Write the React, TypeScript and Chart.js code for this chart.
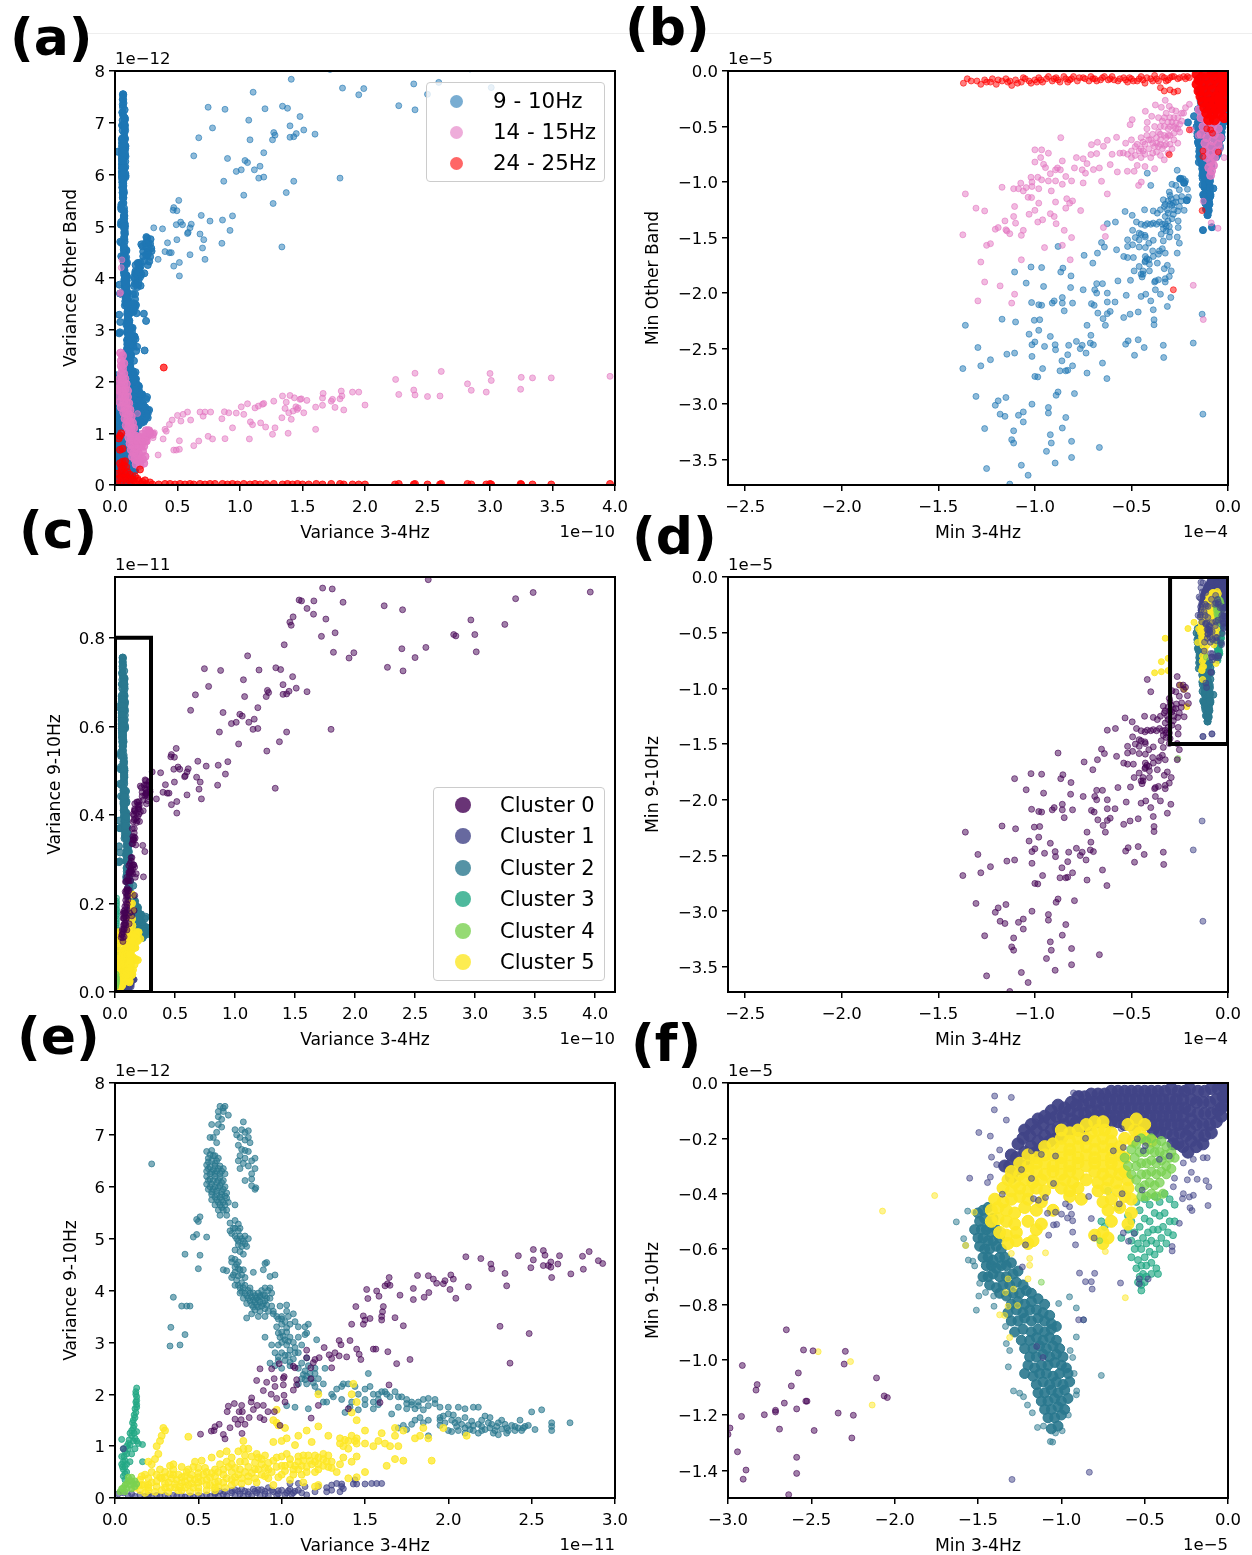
import React, { useEffect, useRef } from "react";
import { Chart, registerables } from "chart.js";

Chart.register(...registerables);

// ---- Variance panels. Far points: x in 1e-10, y in 1e-12
const varCluster0Far = [1.41,7.84,1.105,7.59,1.82,7.67,1.95,7.54,1.99,7.66,2.39,7.75,2.59,7.78,2.5,7.55,3.01,7.68,2.27,7.33,2.4,7.25,1.72,8.03,2.84,8.04,.745,7.3,.88,7.26,1.2,7.27,1.34,7.32,1.38,7.28,1.48,7.12,1.07,7.05,.78,6.9,1.4,6.94,1.51,6.86,1.6,6.78,1.27,6.81,.67,6.71,1.08,6.67,1.26,6.67,1.28,6.76,1.4,6.72,1.43,6.73,1.45,6.79,.63,6.36,1.19,6.42,.9,6.31,1.04,6.27,1.06,6.23,1.01,6.09,.97,6.06,1.16,6.16,1.115,6.09,.87,5.87,1.15,5.93,1.19,5.95,1.43,5.87,1.8,5.93,1.37,5.65,1.03,5.6,1.265,5.44,.51,5.5,.47,5.36,.495,5.3,.465,5.31,.69,5.21,.94,5.2,.86,5.12,.76,5.1,.525,5.08,.49,5.03,.54,5.03,.61,5.04,.6,4.97,.31,4.97,.38,4.95,.92,4.92,.585,4.88,.58,4.86,.68,4.85,.71,4.74,.495,4.74,.42,4.68,.855,4.67,1.335,4.6,.7,4.58,.4,4.51,.45,4.49,.435,4.49,.6,4.45,.345,4.36,.72,4.36,.515,4.3,.47,4.23,.515,4.04];
const varCluster0High = [2.61,9.31,1.73,9.12,1.81,9.1,1.534,8.85,1.554,8.83,1.657,8.83,1.9,8.8,2.243,8.72,2.396,8.63,1.6,8.66,1.654,8.53,1.757,8.42,1.484,8.47,1.457,8.35,1.468,8.28,3.338,8.88,3.484,9.02,3.96,9.03,2.965,8.4,3.248,8.3,2.822,8.07,2.998,8.07,1.834,8.11];
// Near points: x in 1e-11, y in 1e-12
const varCluster0 = [2.926,4.52,2.9,4.575,2.845,4.75,2.805,4.66,2.81,4.41,2.735,4.32,2.667,4.67,2.657,4.51,2.62,4.25,2.615,4.45,2.615,4.55,2.6,4.48,2.58,4.68,2.57,4.77,2.57,4.48,2.51,4.59,2.51,4.79,2.495,4.44,2.485,3.17,2.42,4.67,2.37,2.6,2.35,4.09,2.34,4.33,2.31,3.31,2.26,4.42,2.255,4.51,2.195,4.615,2.12,4.07,2.105,4.65,2.045,3.85,2.03,4.22,2.015,4.3,2.01,4.02,1.98,4.19,1.97,4.13,1.93,4.14,1.91,4.22,1.88,4.285,1.883,3.96,1.855,3.87,1.815,4.29,1.79,3.825,1.79,4.04,1.77,2.67,1.73,3.32,1.71,3.91,1.69,2.59,1.68,3.476,1.645,4.25,1.635,4.13,1.65,4.1,1.637,2.82,1.644,2.18,1.62,4.09,1.61,3.69,1.605,3.59,1.6,3.5,1.6,3.43,1.584,3.89,1.57,3.99,1.55,2.87,1.565,2.87,1.59,1.84,1.51,4.02,1.517,3.845,1.53,3.46,1.49,3.51,1.5,3.43,1.49,3.35,1.445,3.69,1.42,3.35,1.45,2.87,1.465,2.77,1.475,2.67,1.41,3.035,1.345,3.035,1.356,2.955,1.39,2.72,1.345,2.74,1.32,2.8,1.285,2.76,1.3,2.69,1.3,2.51,1.255,2.9,1.225,2.705,1.2,2.67,1.19,2.61,1.175,2.51,1.15,2.85,1.15,2.705,1.07,2.54,1.08,2.51,.985,2.59,.87,2.49,.94,2.49,1.015,2.34,1.01,2.31,1.175,2.3,1.09,2.28,1.09,2.18,.955,2.3,.85,2.265,.91,2.23,.96,2.15,1.01,2.18,1.07,2.08,.89,2.07,.937,2,1.014,1.98,.97,1.92,1.02,1.85,.82,1.93,.817,1.85,.853,1.785,.89,1.785,1.22,1.785,.956,1.665,.918,1.665,.83,1.705,1.4,1.72,1.177,1.54,.99,1.4,.68,1.77,.716,1.82,.76,1.785,.745,1.665,.764,1.665,.673,1.665,.72,1.52,.757,1.51,.738,1.42,.78,1.42,.805,1.55,.87,1.55,.894,1.51,.625,1.42,.6,1.375,.578,1.29,.594,1.3,.513,1.23,.69,1.355,.65,1.225,.66,1.14,.762,1.245];
const varCluster2 = [.63,7.55,.65,7.52,.66,7.55,.62,7.45,.65,7.45,.68,7.38,.62,7.35,.64,7.3,.58,7.2,.62,7.2,.64,7.15,.61,7.05,.59,6.95,.61,6.85,.57,6.95,.72,7.1,.76,7.1,.78,7.05,.8,7.08,.77,7.25,.73,7,.75,6.95,.78,6.9,.74,6.8,.8,6.95,.81,6.85,.76,6.72,.78,6.7,.75,6.6,.78,6.55,.8,6.68,.74,6.5,.77,6.45,.82,6.5,.84,6.55,.8,6.4,.84,6.35,.75,6.35,.82,6.25,.78,6.12,.82,6.15,.82,6.02,.84,5.95,.845,5.98,.55,6.68,.58,6.7,.6,6.6,.56,6.55,.58,6.5,.61,6.5,.55,6.42,.57,6.38,.6,6.4,.63,6.4,.55,6.3,.58,6.28,.61,6.3,.64,6.3,.55,6.2,.57,6.15,.6,6.2,.63,6.18,.66,6.25,.55,6.05,.58,6.05,.61,6.08,.64,6.08,.56,5.95,.59,5.95,.62,5.98,.65,5.95,.58,5.85,.61,5.85,.64,5.85,.67,5.88,.58,5.75,.61,5.75,.64,5.75,.67,5.78,.6,5.65,.63,5.65,.66,5.65,.72,5.65,.62,5.55,.65,5.55,.63,5.45,.67,5.45,.69,5.3,.72,5.35,.74,5.28,.71,5.2,.7,5.1,.74,5.15,.72,5.05,.75,5.05,.78,5.05,.74,4.95,.77,4.95,.8,5,.76,4.85,.79,4.85,.72,4.78,.75,4.75,.77,4.7,.7,4.55,.73,4.5,.75,4.4,.65,4.4,.67,4.38,.72,4.35,.76,4.3,.7,4.25,.73,4.2,.76,4.15,.72,4.1,.75,4.05,.78,4.1,.81,4.05,.75,3.95,.78,3.95,.81,3.95,.84,3.9,.77,3.85,.8,3.85,.83,3.82,.86,3.82,.79,3.75,.82,3.72,.85,3.72,.88,3.7,.84,3.62,.87,3.6,.9,3.65,.79,3.47,.82,3.55,.86,3.5,.9,3.5,.88,4,.92,4,.9,3.9,.86,3.95,.93,3.85,.9,3.8,.87,3.78,.94,3.7,.91,3.72,.93,4.05,.9,4.05,.22,6.44,.51,5.42,.5,5.33,.49,5.37,.49,5.08,.47,5.03,.55,5.03,.51,4.68,.42,4.7,.5,4.42,.35,3.87,.4,3.7,.43,3.7,.45,3.7,.335,3.29,.42,3.15,.33,2.93,.39,2.95,.91,4.54,.9,4.52,.89,4.4,.83,4.35,.93,4.27,.96,4.3,.95,3.55,.98,3.45,1,3.35,1.03,3.6,.99,3.7,1.03,3.72,1.04,3.5,1.07,3.55,1,3.2,1.03,3.2,.97,3.3,.99,3.1,1.02,3.05,1.05,3.1,.9,3.1,.94,2.95,.98,2.95,1.03,2.95,1.07,3,1.08,2.9,1.12,2.95,1.1,3.1,1.14,3.3,1.15,3.18,1.16,3.35,1.14,3.15,1.21,3.05,1.1,3.3,1.08,3.4,.96,2.8,1,2.8,1.04,2.75,.98,2.65,1.02,2.65,1.07,2.68,1.1,2.8,.93,2.6,.96,2.55,1.05,2.55,1,2.5,1.1,2.5,1.14,2.45,1.2,2.5,1.26,2.5,1.12,2.3,1.15,2.35,1.18,2.3,1.1,2.2,1.15,2.2,1.2,2.15,1.25,2.2,1.22,2.05,1.3,2,1.33,2.1,1.36,2.15,1.4,2.2,1.44,2.15,1.46,2,1.37,2.2,1.31,1.95,1.27,1.85,1.36,1.9,1.42,1.85,1.41,1.75,1.38,1.65,1.5,1.9,1.5,2.1,1.53,2.15,1.58,2,1.6,2.05,1.63,2,1.55,2,1.5,1.8,1.55,1.72,1.46,1.7,1.52,2.4,1.03,1.78,1.08,1.75,1.16,1.72,1.25,1.85,1.68,2.05,1.72,1.95,1.75,1.9,1.78,1.85,1.82,1.85,1.85,1.9,1.88,1.92,1.92,1.9,1.95,1.75,1.7,1.75,1.75,1.72,1.8,1.72,1.85,1.7,1.58,1.8,1.66,1.62,2,1.75,2.03,1.6,2.06,1.75,2.1,1.72,2.15,1.75,2.18,1.75,1.95,1.55,1.98,1.45,2.02,1.5,2.06,1.5,2.1,1.55,2.15,1.4,2.2,1.5,2.22,1.58,1.8,1.5,1.83,1.55,1.88,1.5,1.78,1.42,1.73,1.4,1.7,1.35,1.75,1.32,1.85,1.45,1.95,1.4,2,1.3,2.02,1.28,2.15,1.3,2.2,1.3,2.25,1.35,2.28,1.3,2.3,1.45,2.32,1.5,2.35,1.35,2.38,1.4,2.42,1.35,2.45,1.35,2.48,1.4,2.1,1.25,2.18,1.25,2.27,1.25,2.3,1.22,2.4,1.3,2.52,1.32,2.5,1.66,2.56,1.7,2.62,1.45,2.62,1.38,2.62,1.3,2.73,1.45,2.43,1.5,2.25,1.55,1.88,1.2,2.12,1.4,2.06,1.3,2.24,1.45,2.35,1.25,.57,6.62,.59,6.6,.62,6.55,.56,6.48,.6,6.45,.62,6.35,.56,6.35,.59,6.33,.65,6.35,.57,6.25,.6,6.25,.63,6.25,.56,6.12,.59,6.12,.62,6.12,.65,6.12,.57,6,.6,6,.63,6.02,.66,6,.58,5.9,.61,5.92,.64,5.9,.66,5.82,.6,5.8,.63,5.8,.65,5.7,.62,5.7,.68,5.7,.64,5.6,.67,5.55,.69,5.15,.72,5.2,.75,5.2,.73,5,.76,5,.78,4.9,.74,4.88,.7,4.62,.72,4.6,.74,4.55,.72,4.45,.74,4.42,.77,4.4,.71,4.3,.74,4.28,.78,4.25,.74,4.1,.77,4.05,.8,4,.83,3.95,.76,3.98,.79,3.9,.82,3.88,.85,3.85,.81,3.8,.84,3.78,.87,3.88,.83,3.68,.86,3.68,.89,3.75,.92,3.6,.89,3.92,.91,3.85,.87,3.9,.94,3.95,.95,3.6,.97,3.5,1,3.5,1.02,3.4,1,3.45,1.05,3.35,1.03,3.28,.98,3.18,1.01,3.12,1.04,3.02,1,3,1.05,2.85,1.08,2.8,1.02,2.75,.98,2.72,1.05,2.62,1.12,2.6,1.15,2.7,1.16,2.55,1.13,2.38,1.17,2.4,1.2,2.4,1.14,2.28,1.19,2.22,1.22,2.3,1.95,1.5,1.97,1.58,2,1.62,2.04,1.45,2.08,1.42,2.14,1.48,2.18,1.42,2.1,1.35,2.13,1.32,2.2,1.38,2.22,1.32,2.26,1.42,2.29,1.38,2.32,1.33,2.34,1.42,2.36,1.3,2.4,1.38,2.44,1.3,2.46,1.38,2.05,1.38,1.78,1.8,1.75,1.82,1.82,1.78,1.88,1.78,1.92,1.82,1.7,1.95,1.65,1.95,1.62,2.05,1.58,1.9,1.55,1.85];
const varCluster3 = [.13,2.12,.125,2.05,.13,1.95,.125,1.85,.13,1.75,.125,1.65,.12,1.55,.11,1.5,.115,1.4,.1,1.3,.13,1.28,.1,1.2,.085,1.12,.12,1.15,.14,1.05,.165,1.03,.09,1.02,.12,.95,.07,1,.05,.95,.04,1.13,.055,.8,.07,.85,.1,.85,.05,.7,.07,.65,.04,.65,.09,.7,.05,.55,.07,.5,.05,.42,.06,.35,.13,1.88,.12,1.72,.115,1.25,.13,1.1,.165,.7,.125,2,.13,1.8,.115,1.6,.105,1.45,.11,1.35,.09,1.25,.11,1.1,.08,1.05,.06,.9,.08,.95,.04,.8,.06,.72,.045,.6,.06,.6,.06,.47];
const varCluster4 = [.1,.4,.1,.33,.08,.33,.12,.33,.06,.25,.09,.25,.12,.22,.04,.18,.07,.18,.1,.18,.03,.12,.06,.12,.08,.4,.11,.28,.07,.28,.05,.2,.13,.27];
const varCluster1 = [.02,.08,.05,.1,.1,.08,.15,.06,.2,.05,.25,.05,.3,.05,.35,.05,.4,.04,.45,.04,.5,.05,.55,.06,.6,.08,.63,.13,.65,.07,.7,.1,.72,.16,.75,.08,.78,.13,.8,.07,.83,.17,.85,.1,.88,.16,.9,.08,.92,.2,.95,.12,.98,.08,1,.15,1.03,.1,1.05,.17,1.07,.1,1.05,.28,1.1,.28,1.14,.22,1.22,.22,1.2,.12,1.27,.2,1.27,.12,1.3,.15,1.3,.25,1.36,.27,1.36,.22,1.37,.18,1.33,.28,1.44,.35,1.45,.27,1.5,.27,1.54,.28,1.57,.28,1.6,.28,1.43,.27,1.35,.12,1.1,.15,.05,.95,.08,.04,.12,.03,.18,.03,.22,.03,.27,.03,.32,.02,.37,.03,.42,.02,.47,.02,.52,.03,.57,.03,.62,.04,.67,.04,.72,.05,.77,.04,.82,.04,.87,.05,.92,.04,.97,.05,1.02,.06,1.06,.07,.6,.1,.66,.12,.7,.14,.74,.13,.8,.12,.84,.13,.9,.13,.94,.15,.98,.14,1.04,.14,1.08,.13,1.12,.1,1.15,.06,.76,.17,.86,.16];
const varCluster5 = [.12,.2,.15,.35,.15,.15,.18,.1,.18,.25,.18,.45,.2,.15,.22,.3,.22,.5,.24,.12,.25,.22,.27,.4,.27,.55,.28,.15,.3,.28,.3,.5,.32,.12,.33,.2,.34,.38,.35,.55,.36,.27,.38,.15,.38,.45,.4,.3,.4,.6,.42,.2,.43,.5,.45,.12,.45,.38,.46,.28,.47,.6,.48,.7,.5,.2,.5,.48,.52,.33,.52,.72,.54,.58,.55,.15,.55,.25,.57,.4,.58,.78,.6,.2,.6,.55,.62,.32,.63,.85,.65,.45,.66,.2,.67,.9,.68,.6,.7,.25,.7,.78,.72,.4,.74,.9,.75,.55,.76,.28,.78,.7,.8,.42,.8,.95,.82,.8,.84,.55,.85,.3,.86,.78,.88,.65,.9,.42,.9,.82,.92,.55,.95,.72,.95,.25,.97,.6,1,.45,1,.8,1,1.1,1.02,.62,1.05,.75,1.05,.35,1.07,.55,1.08,1.02,1.1,.7,1.12,.45,1.13,.82,1.15,.6,1.17,.72,1.18,1.08,1.2,.5,1.2,.82,1.22,.65,1.25,.75,1.28,.6,1.28,.82,1.3,.7,1.3,.58,.3,1.3,.29,1.35,.28,1.2,.27,1.1,.25,1,.26,.85,.24,.75,.2,.7,.22,.65,.33,.62,.35,.65,.44,1.18,.77,1.1,.77,.95,.85,.85,.95,1.08,1.02,1.35,.97,1.45,.98,1.4,.97,1.7,.95,1.5,1.03,1.15,1.1,1.2,1.15,1.3,1.13,.3,1.2,.22,1.22,.25,1.22,1.38,1.22,2,1.28,1.2,1.35,1.15,1.37,1,1.4,.95,1.42,1.2,1.44,1.1,1.45,1.05,1.42,.7,1.45,.8,1.43,2.2,1.42,2,1.45,1.85,1.45,1.5,1.5,1.3,1.42,1.65,1.5,1.05,1.55,1,1.58,1.1,1.62,1.05,1.65,1,1.68,1.2,1.68,1.35,1.73,1.3,1.7,1,1.63,.62,1.68,.75,1.73,.72,1.5,.5,1.37,.78,1.35,.65,1.33,.5,1.4,.38,1.8,1.15,1.83,1.2,1.88,1.15,1.9,.72,1.85,1.35,1.97,1.35,2.11,1.2,1.6,1.25,1.45,.4,.16,.25,.2,.25,.2,.38,.25,.32,.28,.38,.25,.45,.3,.4,.32,.3,.33,.46,.35,.45,.37,.35,.36,.2,.39,.22,.4,.4,.42,.32,.42,.42,.44,.25,.44,.55,.46,.45,.47,.2,.48,.35,.5,.3,.5,.4,.5,.58,.53,.45,.55,.35,.55,.5,.57,.25,.58,.48,.6,.3,.6,.42,.62,.22,.62,.5,.63,.65,.65,.3,.65,.55,.67,.38,.67,.7,.7,.35,.7,.5,.7,.65,.72,.3,.72,.58,.74,.45,.75,.7,.76,.38,.78,.5,.78,.82,.8,.32,.8,.6,.82,.48,.84,.38,.84,.68,.86,.55,.88,.45,.88,.75,.9,.58,.92,.68,.92,.38,.94,.5,.97,.78,.98,.4,1,.62,1.02,.52,1.03,.85,1.05,.65,1.07,.45,1.08,.62,1.1,.8,1.1,.55,1.12,.62,1.13,.72,1.15,.5,1.16,.82,1.18,.65,1.2,.7,1.22,.55,1.22,.78,1.25,.62,1.25,.85,1.27,.7,.2,.2,.3,.2,.4,.15,.5,.12,.6,.15,.16,.42,.14,.25,1.35,1.05,1.4,1.1,1.38,1.12,1.45,1.15];
// Panel (a) other bands: x in 1e-10, y in 1e-12
const var1415Far = [3.96,2.1,3.49,2.07,3.34,2.07,3.25,2.08,3.245,1.85,3,2.155,3.01,2.02,2.97,1.795,2.85,1.83,2.82,1.955,2.61,2.195,2.6,1.72,2.5,1.71,2.4,2.16,2.39,1.835,2.4,1.74,2.27,1.75,2.245,2.04,2,1.545,1.95,1.795,1.9,1.795,1.83,1.45,1.81,1.815,1.815,1.72,1.8,1.665,1.76,1.5,1.73,1.62,1.74,1.655,1.665,1.77,1.66,1.68,1.66,1.54,1.605,1.505,1.605,1.075,1.535,1.635,1.49,1.665,1.48,1.655,1.51,1.395,1.465,1.49,1.447,1.51,1.457,1.46,1.425,1.43,1.435,1.685,1.4,1.73,1.39,1.395,1.41,1.27,1.34,1.72,1.37,1.6,1.36,1.48,1.335,1.3,1.385,1,1.28,1.105,1.26,.98,1.27,1.62,1.19,1.575,1.18,1.56,1.147,1.525,1.165,1.2,1.205,1.12,1.12,1.49,1.1,1.165,1.083,1.22,1.075,.89,1.06,1.57,1.03,1.365,1.01,1.51,.97,1.39,.94,1.105,.91,1.395,.875,1.415,.855,1.28,.88,.895,.78,.89,.745,.94,.765,1.41,.72,1.41,.705,1.33,.68,1.41,.67,.85,.63,.76,.605,1.255,.58,1.41,.545,1.365,.527,1.235,.5,1.345,.515,.855,.515,.69,.49,.675,.47,.675,.457,1.255,.435,1.17,.41,1.04,.4,1.075,.385,.89,.345,.58,.315,1.01,.305,.915,.04,3.7,.045,3.72,.05,4.2,.055,4.35,.18,1.38];
const var1415Core = [.275,1.02,.25,.945,.24,.85,.21,.75,.045,2.55,.06,2.5,.05,2.4,.07,2.35,.06,2.25,.05,2.15,.07,2.15,.04,2.05,.06,2.05,.08,2.05,.03,1.95,.05,1.92,.07,1.95,.09,1.95,.02,1.85,.04,1.82,.06,1.82,.08,1.85,.1,1.82,.03,1.72,.06,1.7,.08,1.72,.1,1.7,.04,1.6,.07,1.6,.09,1.6,.11,1.58,.05,1.5,.08,1.5,.1,1.48,.12,1.45,.07,1.4,.09,1.38,.11,1.36,.13,1.32,.08,1.28,.1,1.25,.12,1.22,.14,1.2,.09,1.15,.11,1.12,.13,1.1,.15,1.1,.1,1.03,.12,1,.14,.98,.16,.95,.11,.92,.13,.88,.15,.85,.17,.85,.12,.8,.14,.76,.16,.72,.18,.72,.13,.68,.15,.62,.17,.6,.19,.6,.14,.55,.16,.5,.18,.48,.2,.48,.22,.5,.23,.42,.2,.38,.17,.4,.24,.55,.22,.65,.2,.75,.18,.85,.23,.75,.25,.85,.22,.85,.2,.92,.05,2.3,.23,.92,.26,.95,.28,1,.3,.98,.25,1.05,.27,1.05,.22,.98];
const var2425 = [.39,2.27,.04,.95,.05,1,.03,.9,.04,.68,.06,.7,.02,.02,.05,.02,.09,.02,.13,.02,.17,.02,.21,.02,.25,.02,.03,.12,.07,.12,.11,.1,.15,.09,.19,.08,.24,.09,.02,.22,.05,.25,.08,.22,.12,.2,.16,.17,.2,.3,.05,.35,.07,.38,.09,.35,.06,.45,.08,.46,.04,.42,.3,.01,.35,.01,.4,.02,.44,.02,.48,.01,.52,.02,.56,.01,.6,.02,.63,.01,.68,.02,.72,.01,.76,.02,.8,.02,.86,.02,.9,.01,.94,.02,.98,.01,1.03,.02,1.08,.01,1.12,.02,1.16,.01,1.21,.02,1.27,.02,1.34,.01,1.38,.02,1.42,.01,1.46,.02,1.5,.01,1.55,.01,1.61,.02,1.66,.01,1.73,.02,1.8,.02,1.83,.01,1.9,.01,1.95,.01,2,.01,2.24,.01,2.27,.02,2.4,.02,2.39,.01,2.5,.01,2.6,.01,2.61,.02,2.82,.02,2.85,.01,2.97,.01,3,.02,3.01,.01,3.25,.01,3.245,.02,3.34,.01,3.49,.01,3.96,.02,.06,.3,.1,.25,.13,.12,.18,.12,.22,.06,.28,.05,.05,.15,.09,.15];

// ---- Minimum panels. Far points: x in 1e-4, y in 1e-5
const minCluster0Far = [-1.373,-2.68,-1.36,-2.29,-1.305,-2.93,-1.295,-2.49,-1.28,-2.655,-1.26,-3.22,-1.25,-3.58,-1.23,-2.6,-1.205,-3.01,-1.19,-2.97,-1.18,-3.09,-1.17,-2.235,-1.155,-3.11,-1.15,-2.94,-1.145,-2.55,-1.13,-3.72,-1.12,-3.32,-1.11,-3.24,-1.11,-3.35,-1.105,-1.81,-1.105,-2.54,-1.1,-2.26,-1.085,-3.1,-1.07,-3.55,-1.06,-3.07,-1.06,-3.16,-1.045,-1.91,-1.035,-3.64,-1.03,-2.37,-1.02,-1.765,-1.017,-2.085,-1.015,-2.465,-1.015,-2.57,-1.015,-3,-1.003,-2.245,-1,-2.44,-1,-2.75,-.985,-2.755,-.98,-2.105,-.975,-2.24,-.98,-2.335,-.965,-1.77,-.965,-2.11,-.96,-2.68,-.955,-1.94,-.95,-2.48,-.94,-3.425,-.93,-3.03,-.93,-3.08,-.92,-2.39,-.92,-3.275,-.915,-3.35,-.91,-2.09,-.9,-2.07,-.895,-2.465,-.895,-3.53,-.893,-2.51,-.89,-2.92,-.88,-2.89,-.88,-1.58,-.87,-2.7,-.866,-1.81,-.86,-2.61,-.858,-2.04,-.858,-2.09,-.858,-3.215,-.855,-1.775,-.848,-2.16,-.84,-2.7,-.84,-3.12,-.83,-2.695,-.83,-2.555,-.825,-2.47,-.815,-1.95,-.813,-1.845,-.81,-3.335,-.81,-3.48,-.805,-2.09,-.805,-2.655,-.795,-2.905,-.785,-2.435,-.765,-2.5,-.755,-2.47,-.75,-1.97,-.745,-1.66,-.735,-2.54,-.73,-2.29,-.73,-2.72,-.71,-2.38,-.713,-2.45,-.707,-2.095,-.7,-1.73,-.697,-2.465,-.693,-2.11,-.69,-1.97,-.68,-1.915,-.676,-1.64,-.68,-2,-.674,-2.18,-.666,-3.39,-.655,-1.545,-.65,-1.915,-.65,-2.63,-.647,-2.23,-.64,-1.585,-.635,-2.29,-.627,-2.77,-.625,-2,-.625,-2.08,-.625,-2.185,-.625,-1.375,-.61,-2.165,-.583,-1.36,-.585,-2.08,-.577,-1.61,-.57,-1.89,-.54,-2.22,-.54,-1.67,-.53,-2.46,-.527,-2.02,-.517,-2.43,-.533,-1.265,-.507,-2.19,-.505,-1.885,-.496,-1.3,-.484,-2.56,-.465,-2.17,-.465,-2.42,-.45,-2.03,-.434,-2.49,-.426,-2.01,-.4,-2.07,-.387,-2.15,-.383,-2.24,-.383,-2.285,-.35,-2.01,-.335,-2.47,-.333,-2.58,-.314,-2.12,-.296,-2.04,-.418,-.92,-.4,-1.03,-.263,-.894,-.252,-.97,-.232,-.97,-.22,-.99,-.29,-1.02,-.21,-1.065,-.205,-1.135,-.252,-1.07,-.304,-1.09,-.335,-1.16,-.294,-1.15,-.267,-1.14,-.242,-1.17,-.325,-1.2,-.283,-1.19,-.252,-1.22,-.35,-1.25,-.314,-1.25,-.227,-1.255,-.432,-1.25,-.387,-1.26,-.366,-1.28,-.325,-1.31,-.283,-1.29,-.258,-1.35,-.474,-1.36,-.45,-1.38,-.418,-1.375,-.387,-1.37,-.355,-1.36,-.325,-1.375,-.304,-1.4,-.335,-1.42,-.258,-1.41,-.494,-1.435,-.46,-1.46,-.428,-1.495,-.52,-1.52,-.346,-1.47,-.304,-1.495,-.263,-1.495,-.494,-1.565,-.46,-1.585,-.428,-1.59,-.387,-1.525,-.335,-1.53,-.252,-1.55,-.52,-1.58,-.49,-1.68,-.52,-1.68,-.428,-1.67,-.387,-1.67,-.355,-1.62,-.325,-1.64,-.263,-1.64,-.428,-1.71,-.407,-1.74,-.46,-1.76,-.366,-1.73,-.314,-1.75,-.486,-1.8,-.45,-1.83,-.407,-1.8,-.294,-1.8,-.445,-1.855,-.376,-1.89,-.325,-1.87,-.304,-1.85,-.376,-1.97,-.325,-1.9,-.3,-1.12,-.31,-1.17,-.29,-1.21,-.27,-1.18,-.33,-1.22,-.31,-1.28,-.29,-1.33,-.31,-1.35,-.32,-1.4,-.34,-1.38,-.37,-1.38,-.4,-1.38,-.43,-1.39,-.45,-1.47,-.43,-1.48,-.41,-1.55,-.42,-1.69,-.43,-1.72,-.41,-1.7,-.44,-1.8,-.44,-1.83,-.38,-1.9,-.36,-1.88,-.33,-1.78,-.3,-1.2,-.28,-1.25,-.32,-1.44,-.3,-1.45,-.34,-1.6,-.36,-1.65,-.39,-1.62,-.27,-1.03,-.23,-1.01,-.24,-1.13,-.26,-1.26,-.46,-1.52,-.48,-1.5];
const minCluster5Far = [-.325,-.55,-.345,-.76,-.38,-.86,-.345,-.85,-.31,-.84,-.31,-.73];
const minCluster1Far = [-.13,-1.43,-.083,-1.41,-.134,-2.19,-.18,-2.45,-.13,-3.09];
const minCluster4Far = [-.26,-1.63];
// Panel (f) scale: x and y both in 1e-5
const minCluster0 = [-2.65,-.892,-2.547,-.965,-2.49,-.968,-2.296,-.97,-2.303,-1.016,-2.914,-1.021,-2.578,-1.048,-2.109,-1.066,-2.825,-1.09,-2.832,-1.11,-2.62,-1.095,-2.063,-1.131,-2.044,-1.137,-2.662,-1.157,-2.533,-1.15,-2.526,-1.15,-2.715,-1.183,-2.715,-1.189,-2.588,-1.178,-2.782,-1.199,-2.339,-1.193,-2.248,-1.201,-2.919,-1.205,-2.988,-1.247,-3,-1.27,-2.691,-1.251,-2.483,-1.256,-2.257,-1.283,-2.943,-1.333,-2.588,-1.353,-2.892,-1.399,-2.588,-1.411,-2.909,-1.432,-2.636,-1.488];
const minCluster2Sparse = [-1.63,-.502,-1.562,-.463,-1.586,-.5625,-1.574,-.587,-1.558,-.64,-1.531,-.644,-1.52,-.661,-1.49,-.724,-1.495,-.77,-1.51,-.821,-1.455,-.757,-1.406,-.77,-1.404,-.807,-1.335,-.88,-1.33,-.942,-1.318,-1.026,-1.31,-.967,-1.287,-1.113,-1.25,-1.121,-1.227,-1.134,-1.203,-1.164,-1.174,-1.192,-1.143,-1.245,-1.107,-1.24,-1.066,-1.296,-1.052,-1.298,-1.035,-1.265,-.995,-1.257,-.958,-1.2,-.91,-1.127,-.908,-1.113,-.923,-1.05,-.932,-.992,-.947,-.967,-.91,-.918,-.91,-.813,-.951,-.773,-1.016,-.797,-.76,-1.057,-.867,-.856];
const minCluster2Body = [-1.47,-.46,-1.44,-.45,-1.5,-.47,-1.49,-.5,-1.46,-.49,-1.43,-.51,-1.41,-.49,-1.52,-.53,-1.48,-.53,-1.45,-.53,-1.42,-.54,-1.39,-.53,-1.5,-.56,-1.47,-.56,-1.44,-.57,-1.41,-.57,-1.37,-.56,-1.49,-.59,-1.46,-.6,-1.43,-.6,-1.39,-.59,-1.36,-.6,-1.47,-.63,-1.44,-.63,-1.41,-.64,-1.37,-.63,-1.34,-.63,-1.45,-.66,-1.42,-.66,-1.39,-.67,-1.36,-.66,-1.33,-.66,-1.3,-.65,-1.47,-.7,-1.44,-.7,-1.41,-.69,-1.37,-.7,-1.33,-.7,-1.29,-.69,-1.26,-.68,-1.43,-.73,-1.39,-.74,-1.35,-.73,-1.31,-.73,-1.27,-.72,-1.23,-.73,-1.37,-.76,-1.33,-.77,-1.29,-.76,-1.25,-.76,-1.21,-.75,-1.18,-.76,-1.3,-.8,-1.26,-.79,-1.22,-.8,-1.18,-.79,-1.14,-.78,-1.1,-.8,-1.32,-.83,-1.27,-.82,-1.23,-.83,-1.19,-.82,-1.15,-.82,-1.11,-.83,-1.07,-.84,-1.3,-.86,-1.26,-.86,-1.22,-.85,-1.18,-.86,-1.14,-.85,-1.1,-.86,-1.06,-.87,-1.28,-.9,-1.23,-.89,-1.18,-.9,-1.14,-.89,-1.1,-.9,-1.06,-.89,-1.03,-.88,-1.24,-.93,-1.19,-.93,-1.15,-.92,-1.11,-.93,-1.07,-.92,-1.03,-.93,-1.22,-.96,-1.17,-.96,-1.13,-.95,-1.09,-.96,-1.05,-.95,-1.01,-.96,-1.19,-.99,-1.15,-.99,-1.11,-.98,-1.07,-.99,-1.03,-.98,-.99,-.99,-1.2,-1.02,-1.16,-1.03,-1.12,-1.02,-1.08,-1.02,-1.04,-1.01,-1,-1.02,-.97,-1.03,-1.22,-1.05,-1.17,-1.06,-1.13,-1.05,-1.09,-1.05,-1.05,-1.06,-1.01,-1.05,-.96,-1.05,-1.15,-1.09,-1.11,-1.08,-1.07,-1.09,-1.03,-1.08,-.99,-1.09,-.95,-1.08,-1.14,-1.12,-1.1,-1.12,-1.06,-1.11,-1.02,-1.12,-.98,-1.11,-1.12,-1.15,-1.08,-1.15,-1.04,-1.14,-1,-1.15,-.96,-1.14,-1.1,-1.18,-1.06,-1.18,-1.02,-1.17,-.98,-1.18,-1.08,-1.21,-1.04,-1.21,-1,-1.2,-1.06,-1.25,-1.02,-1.24];
const minCluster3 = [-.64,-.56,-.6,-.48,-.58,-.5,-.55,-.43,-.53,-.46,-.5,-.42,-.47,-.44,-.44,-.41,-.41,-.43,-.38,-.4,-.35,-.42,-.32,-.44,-.6,-.53,-.56,-.54,-.53,-.52,-.5,-.49,-.47,-.5,-.44,-.47,-.41,-.48,-.38,-.47,-.35,-.5,-.32,-.5,-.58,-.57,-.54,-.58,-.51,-.56,-.48,-.54,-.45,-.53,-.42,-.53,-.39,-.52,-.36,-.54,-.33,-.55,-.56,-.6,-.52,-.6,-.49,-.58,-.46,-.57,-.43,-.58,-.4,-.56,-.37,-.58,-.58,-.63,-.54,-.64,-.5,-.63,-.47,-.61,-.44,-.62,-.41,-.6,-.55,-.67,-.52,-.66,-.49,-.66,-.46,-.65,-.43,-.67,-.53,-.7,-.51,-.69,-.49,-.7,-.46,-.69,-.52,-.73,-.5,-.72,-.42,-.69,-.54,-.72,-.52,-.75,-.66,-.45,-.72,-.39,-.76,-.5,-.74,-.52];
const minCluster4 = [-.62,-.27,-.58,-.24,-.55,-.22,-.52,-.2,-.49,-.21,-.46,-.2,-.43,-.22,-.4,-.21,-.37,-.23,-.34,-.25,-.6,-.3,-.56,-.27,-.53,-.25,-.5,-.25,-.47,-.24,-.44,-.25,-.41,-.25,-.38,-.26,-.35,-.27,-.32,-.27,-.58,-.33,-.55,-.3,-.52,-.29,-.49,-.29,-.46,-.28,-.43,-.29,-.4,-.28,-.37,-.3,-.34,-.31,-.55,-.35,-.52,-.33,-.49,-.33,-.46,-.32,-.43,-.33,-.4,-.32,-.37,-.33,-.53,-.38,-.5,-.37,-.47,-.36,-.44,-.37,-.41,-.36,-.52,-.41,-.49,-.41,-.46,-.4,-.43,-.41,-.39,-.4];
const minCluster4Sparse = [-.77,-.57,-1.12,-.72];
const minCluster5Sparse = [-1.76,-.407,-2.073,-.463,-2.459,-.971,-2.265,-1.007,-2.135,-1.164,-1.095,-.614,-.736,-.609,-.616,-.776,-1.574,-.587,-1.522,-.467,-1.31,-.92,-1.37,-.838,-1.34,-.84,-1.263,-.804,-1.32,-.807,-1.335,-.757,-1.287,-.745,-1.32,-.708,-1.2,-.708,-1.19,-.659,-1.19,-.634,-1.3,-.616];
const minCluster5Body = [-.9,-.17,-.85,-.15,-.8,-.14,-.75,-.14,-.55,-.13,-.5,-.15,-.82,-.18,-.78,-.17,-.56,-.17,-.6,-.15,-1,-.17,-.95,-.18,-.74,-.17,-.7,-.18,-.53,-.18,-1,-.2,-.95,-.21,-.9,-.2,-.85,-.2,-.8,-.21,-.75,-.2,-.7,-.21,-.62,-.2,-.57,-.21,-.5,-.2,-.46,-.21,-1.1,-.23,-1.05,-.22,-1,-.23,-.95,-.24,-.9,-.23,-.85,-.23,-.8,-.24,-.75,-.23,-.7,-.24,-.65,-.23,-1.2,-.26,-1.15,-.27,-1.1,-.26,-1.05,-.26,-1,-.27,-.95,-.26,-.9,-.27,-.85,-.26,-.8,-.27,-.75,-.26,-.7,-.27,-.65,-.26,-.62,-.27,-1.25,-.29,-1.2,-.3,-1.15,-.29,-1.1,-.29,-1.05,-.3,-1,-.29,-.95,-.3,-.9,-.29,-.85,-.3,-.8,-.29,-.75,-.3,-.7,-.29,-.66,-.3,-1.3,-.32,-1.25,-.33,-1.2,-.32,-1.15,-.32,-1.1,-.33,-1.05,-.32,-1,-.33,-.95,-.32,-.9,-.33,-.8,-.32,-.75,-.33,-.7,-.32,-.65,-.33,-.62,-.32,-1.32,-.35,-1.28,-.36,-1.22,-.35,-1.17,-.36,-1.12,-.35,-1.05,-.36,-.98,-.35,-.93,-.36,-.85,-.35,-.78,-.36,-.72,-.35,-.67,-.36,-.6,-.35,-1.35,-.38,-1.3,-.39,-1.25,-.38,-1.2,-.39,-1.15,-.38,-1.1,-.39,-1,-.38,-.95,-.39,-.9,-.38,-.78,-.39,-.73,-.38,-.66,-.39,-.6,-.38,-1.4,-.42,-1.35,-.43,-1.3,-.42,-1.25,-.41,-1.2,-.42,-1.12,-.43,-.95,-.41,-.88,-.42,-.75,-.43,-.7,-.42,-.62,-.41,-.58,-.42,-1.42,-.46,-1.38,-.45,-1.33,-.46,-1.28,-.47,-1.22,-.45,-1.15,-.46,-1.05,-.46,-.72,-.46,-.65,-.45,-.58,-.47,-1.42,-.5,-1.38,-.49,-1.33,-.5,-1.28,-.51,-1.2,-.5,-1.12,-.51,-.7,-.5,-.6,-.51,-1.37,-.54,-1.33,-.55,-1.27,-.54,-1.15,-.53,-.8,-.55,-.75,-.54,-.72,-.56,-1.32,-.58,-1.27,-.57,-1.2,-.58,-1.17,-.57,-.75,-.58];
const minCluster1Band = [-1.34,-.3,-1.3,-.26,-1.31,-.3,-1.3,-.34,-1.26,-.22,-1.27,-.27,-1.26,-.31,-1.22,-.17,-1.23,-.2,-1.22,-.25,-1.23,-.3,-1.18,-.15,-1.19,-.19,-1.18,-.23,-1.19,-.27,-1.14,-.13,-1.15,-.17,-1.14,-.21,-1.15,-.25,-1.1,-.12,-1.11,-.15,-1.1,-.19,-1.11,-.23,-1.06,-.1,-1.07,-.13,-1.06,-.17,-1.07,-.21,-1.02,-.08,-1.03,-.12,-1.02,-.16,-1.03,-.2,-.98,-.09,-.99,-.12,-.98,-.15,-.99,-.19,-.94,-.07,-.95,-.1,-.94,-.13,-.95,-.17,-.9,-.05,-.91,-.08,-.9,-.11,-.91,-.14,-.9,-.17,-.86,-.05,-.87,-.08,-.86,-.11,-.87,-.14,-.86,-.16,-.82,-.04,-.83,-.07,-.82,-.1,-.83,-.13,-.82,-.15,-.78,-.04,-.79,-.07,-.78,-.1,-.79,-.12,-.78,-.14,-.74,-.04,-.75,-.06,-.74,-.09,-.75,-.12,-.74,-.14,-.7,-.03,-.71,-.06,-.7,-.09,-.71,-.12,-.7,-.14,-.66,-.03,-.67,-.06,-.66,-.09,-.67,-.12,-.66,-.14,-.62,-.03,-.63,-.06,-.62,-.09,-.63,-.12,-.62,-.15,-.58,-.03,-.59,-.06,-.58,-.09,-.59,-.12,-.58,-.15,-.54,-.03,-.55,-.06,-.54,-.09,-.55,-.12,-.54,-.15,-.5,-.03,-.51,-.06,-.5,-.09,-.51,-.12,-.5,-.15,-.46,-.03,-.47,-.06,-.46,-.09,-.47,-.12,-.46,-.15,-.45,-.17,-.42,-.03,-.43,-.06,-.42,-.09,-.43,-.12,-.42,-.15,-.41,-.18,-.38,-.03,-.39,-.06,-.38,-.09,-.39,-.12,-.38,-.15,-.37,-.18,-.34,-.02,-.35,-.06,-.34,-.09,-.35,-.12,-.34,-.15,-.33,-.19,-.33,-.22,-.3,-.03,-.31,-.06,-.3,-.09,-.31,-.12,-.3,-.15,-.29,-.18,-.3,-.22,-.26,-.03,-.27,-.06,-.26,-.09,-.27,-.12,-.26,-.15,-.25,-.19,-.27,-.23,-.23,-.02,-.22,-.06,-.23,-.1,-.22,-.13,-.23,-.17,-.22,-.21,-.24,-.25,-.18,-.03,-.19,-.07,-.18,-.11,-.19,-.15,-.18,-.19,-.19,-.23,-.14,-.03,-.15,-.07,-.14,-.11,-.15,-.15,-.14,-.19,-.15,-.22,-.1,-.02,-.11,-.07,-.1,-.11,-.11,-.15,-.1,-.18,-.06,-.02,-.07,-.06,-.06,-.1,-.07,-.14,-.03,-.01,-.03,-.05,-.04,-.09,-.04,-.12,-.01,-.02,-.01,-.05,-.015,-.08];
const minCluster1Sparse = [-1.4,-.047,-1.3,-.052,-1.402,-.097,-1.33,-.134,-1.495,-.179,-1.426,-.192,-1.37,-.242,-1.419,-.268,-1.388,-.295,-1.55,-.344,-1.426,-.34,-1.443,-.36,-1.354,-.402,-1.179,-.345,-1.167,-.418,-1.138,-.424,-1.095,-.414,-1.047,-.363,-.975,-.437,-.951,-.447,-1.035,-.467,-.999,-.474,-1.083,-.471,-.939,-.474,-.963,-.488,-1.047,-.513,-1.028,-.511,-.932,-.498,-1.076,-.55,-.932,-.539,-.915,-.585,-.82,-.49,-.836,-.41,-.803,-.56,-1.215,-.585,-1.234,-.665,-.891,-.687,-.855,-.718,-.82,-.718,-.8,-.688,-.815,-.745,-.645,-.723,-.532,-.726,-.532,-.708,-.479,-.708,-.896,-.856,-.867,-.856,-1.148,-.952,-1.11,-.992,-.832,-1.407,-1.296,-1.433,-.597,-.572,-.628,-.542,-.563,-.544,-.652,-.437,-.635,-.4,-.515,-.387,-.335,-.591,-.335,-.607,-.292,-.507,-.228,-.451,-.216,-.461,-.12,-.443,-.273,-.418,-.232,-.412,-.208,-.406,-.115,-.375,-.132,-.353,-.185,-.348,-.244,-.35,-.22,-.323,-.149,-.27,-.125,-.27,-.208,-.276,-.268,-.289,-.268,-.4,-.321,-.344,-.328,-.375,-.352,-.264,-.412,-.276,-.496,-.227,-.508,-.245,-.628,-.233,-.688,-.245,-.64,-.165,-.544,-.202,-.855,-.2,-1.12,-.258,-1.179,-.245,-1.239,-.313,-1.035,-.264,-1.155,-.14,-.927,-.036,-.891,-.038];
// Panel (b) other bands: x in 1e-4, y in 1e-5
const min1415 = [-1.373,-1.475,-1.36,-1.107,-1.305,-1.235,-1.26,-1.26,-1.25,-1.57,-1.23,-1.555,-1.28,-1.72,-1.26,-1.9,-1.295,-2.07,-1.205,-1.425,-1.19,-1.41,-1.18,-1.935,-1.17,-1.047,-1.155,-1.35,-1.15,-1.43,-1.145,-1.44,-1.13,-1.465,-1.12,-2.09,-1.11,-1.31,-1.11,-1.06,-1.105,-1.22,-1.105,-2.01,-1.1,-1.37,-1.085,-1.06,-1.073,-1.01,-1.07,-1.48,-1.06,-1.435,-1.06,-1.08,-1.07,-1.7,-1.045,-1.05,-1.035,-1.137,-1.03,-1.29,-1.017,-1.14,-1.02,-.957,-1.015,-1,-1.015,-1.04,-1,-1.255,-1,-.71,-1,-.82,-.985,-.957,-.98,-1.06,-.98,-1.19,-.985,-1.36,-.965,-.71,-.97,-.78,-.965,-.98,-.96,-1.34,-.95,-1.59,-.955,-.84,-.945,-.87,-.93,-.74,-.92,-.925,-.93,-.99,-.915,-1.08,-.92,-1.285,-.893,-.89,-.893,-.99,-.893,-1.18,-.9,-1.31,-.89,-1.375,-.883,-.873,-.868,-.89,-.866,-.6,-.858,-1.02,-.858,-.81,-.858,-1.57,-.848,-1.435,-.84,-.95,-.817,-1.7,-.81,-1.5,-.835,-1.15,-.84,-1.235,-.82,-1.19,-.805,-1.17,-.81,-.99,-.785,-.78,-.795,-.873,-.763,-1.257,-.75,-.79,-.755,-.89,-.75,-1.008,-.73,-.834,-.738,-.92,-.707,-.663,-.71,-.753,-.697,-.888,-.68,-.744,-.676,-.642,-.666,-.873,-.655,-.993,-.645,-.678,-.625,-.624,-.625,-1.107,-.61,-.843,-.577,-.597,-.573,-.909,-.542,-.738,-.521,-.903,-.496,-.438,-.507,-.483,-.486,-.903,-.463,-1.03,-.449,-1,-.428,-.363,-.418,-.462,-.395,-.408,-.376,-.306,-.345,-.327,-.325,-.264,-.304,-.318,-.645,-1.41,-.635,-1.49,-.18,-1.93,-.128,-2.238,-.052,-1.416,-.087,-1.368,-.128,-1.173,-.53,-.65,-.5,-.62,-.52,-.75,-.48,-.68,-.46,-.72,-.44,-.64,-.42,-.58,-.4,-.62,-.38,-.68,-.36,-.55,-.35,-.62,-.33,-.5,-.31,-.58,-.3,-.66,-.28,-.5,-.26,-.42,-.25,-.55,-.23,-.38,-.22,-.33,-.42,-.52,-.38,-.5,-.34,-.45,-.3,-.42,-.27,-.36,-.31,-.74,-.35,-.76,-.4,-.78,-.45,-.78,-.5,-.72,-.56,-.74,-.6,-.75,-.47,-.85,-.43,-.86,-.38,-.88,-.33,-.8,-.28,-.62,-.26,-.65,-.36,-.42,-.32,-.38,-.29,-.35,-.24,-.45,-.45,-.6,-.5,-.78,-.41,-.7,-.37,-.73,-.33,-.67,-.3,-.5,-.35,-.5,-.39,-.57,-.44,-.72,-.48,-.76,-.27,-.47,-.32,-.6,-.29,-.7,-.2,-.3,-.43,-.66,-.41,-.62,-.39,-.65,-.37,-.6,-.35,-.57,-.33,-.58,-.31,-.52,-.29,-.46,-.27,-.52,-.25,-.48,-.24,-.38,-.47,-.66,-.45,-.7,-.43,-.75,-.39,-.74,-.36,-.68,-.34,-.7,-.32,-.66,-.3,-.58,-.28,-.56,-.26,-.52,-.35,-.66,-.37,-.65,-.31,-.46,-.33,-.42,-.28,-.42];
const min1415Spine = [-.15,-.35,-.12,-.38,-.09,-.42,-.06,-.45,-.03,-.4,-.14,-.42,-.11,-.45,-.08,-.5,-.05,-.52,-.13,-.5,-.1,-.53,-.07,-.57,-.04,-.6,-.14,-.57,-.11,-.6,-.08,-.63,-.05,-.66,-.12,-.65,-.09,-.68,-.06,-.72,-.12,-.72,-.09,-.75,-.07,-.78,-.11,-.78,-.09,-.82,-.075,-.85,-.1,-.87,-.085,-.9,-.09,-.94];
const min1415SpineSparse = [-.02,-.78,-.04,-.7,-.19,-.53,-.155,-.58];
const min2425Corner = [-.16,-.03,-.12,-.02,-.08,-.02,-.04,-.02,-.01,-.02,-.15,-.08,-.11,-.07,-.07,-.07,-.03,-.07,-.01,-.08,-.16,-.12,-.13,-.13,-.09,-.12,-.05,-.12,-.02,-.13,-.15,-.18,-.12,-.18,-.08,-.17,-.04,-.18,-.015,-.18,-.14,-.23,-.1,-.23,-.06,-.23,-.025,-.23,-.13,-.28,-.1,-.28,-.07,-.29,-.04,-.28,-.02,-.3,-.12,-.33,-.09,-.33,-.06,-.34,-.03,-.34,-.11,-.38,-.08,-.39,-.05,-.38,-.02,-.42,-.1,-.44,-.07,-.44,-.05,-.25,-.03,-.15];
const min2425 = [-.11,-.52,-.09,-.53,-.08,-.56,-.03,-.42,-.13,-.72,-.13,-.77,-.05,-.73,-.134,-1.257,-.283,-1.97,-.304,-.753,-.2,-.53,-1.37,-.11,-1.35,-.07,-1.3,-.09,-1.28,-.12,-1.25,-.1,-1.22,-.07,-1.2,-.12,-1.17,-.09,-1.14,-.1,-1.12,-.13,-1.1,-.08,-1.07,-.1,-1.05,-.07,-1.02,-.11,-1,-.08,-.98,-.06,-.96,-.1,-.94,-.07,-.91,-.09,-.89,-.06,-.87,-.1,-.84,-.07,-.82,-.08,-.8,-.05,-.78,-.09,-.75,-.06,-.72,-.09,-.7,-.07,-.68,-.09,-.65,-.06,-.62,-.08,-.6,-.05,-.57,-.09,-.54,-.06,-.52,-.1,-.5,-.07,-.47,-.09,-.45,-.05,-.43,-.11,-.4,-.07,-.38,-.04,-.36,-.09,-.33,-.06,-.31,-.08,-.29,-.05,-.26,-.07,-.23,-.05,-.2,-.06,-.35,-.15,-.33,-.18,-.3,-.17,-.28,-.19,-.26,-.18,-1.33,-.09,-1.26,-.08,-1.23,-.1,-1.19,-.08,-1.15,-.07,-1.13,-.09,-1.09,-.11,-1.06,-.06,-1.03,-.09,-.99,-.1,-.97,-.08,-.93,-.05,-.9,-.07,-.88,-.08,-.85,-.05,-.83,-.1,-.81,-.07,-.77,-.06,-.74,-.07,-.71,-.05,-.69,-.07,-.66,-.08,-.64,-.05,-.61,-.07,-.59,-.08,-.56,-.07,-.53,-.08,-.51,-.06,-.49,-.09,-.46,-.07,-.44,-.08,-.42,-.06,-.39,-.09,-.37,-.07,-.34,-.05,-.32,-.09,-.3,-.06,-.28,-.05,-.25,-.06,-.22,-.07,-.21,-.05];

// Tick labels
const xTicksVar = [0, .5, 1, 1.5, 2, 2.5, 3, 3.5, 4];
const xTicksVarFine = [0, .5, 1, 1.5, 2, 2.5, 3];
const xTicksMin = [-2.5, -2, -1.5, -1, -.5, 0];
const xTicksMinFine = [-3, -2.5, -2, -1.5, -1, -.5, 0];
const yTicksVar = [0, 1, 2, 3, 4, 5, 6, 7, 8];
const yTicksVarC = [0, .2, .4, .6, .8];
const yTicksMin = [-3.5, -3, -2.5, -2, -1.5, -1, -.5, 0];
const yTicksMinFine = [-1.4, -1.2, -1, -.8, -.6, -.4, -.2, 0];
const bandNames = ["9 - 10Hz", "14 - 15Hz", "24 - 25Hz"];
const clusterNames = ["Cluster 0", "Cluster 1", "Cluster 2", "Cluster 3", "Cluster 4", "Cluster 5"];
const zoomBoxC = [0, 0, 0, .8, .3, .8, .3, 0, 0, 0];
const zoomBoxD = [0, 0, -.3, 0, -.3, -1.5, 0, -1.5, 0, 0];

const FONT = "'DejaVu Sans'";
const bandColors = ["31,119,180", "227,119,194", "255,0,0"];
const clusterColors = ["68,1,84", "65,68,135", "42,120,142", "34,168,132", "122,209,81", "253,231,37"];

const pts = (flat: number[], sx = 1, sy = 1) => {
  const out: { x: number; y: number }[] = [];
  for (let i = 0; i < flat.length; i += 2) out.push({ x: flat[i] * sx, y: flat[i + 1] * sy });
  return out;
};
const set = (rgb: string, data: { x: number; y: number }[], i: number, r = 3, alpha = 0.5) => ({
  data,
  order: -i,
  clip: 0,
  showLine: false,
  pointRadius: r,
  pointBorderWidth: 1,
  pointBackgroundColor: `rgba(${rgb},${alpha})`,
  pointBorderColor: `rgba(${rgb},${Math.min(1, alpha + 0.1)})`,
});
const box = (flat: number[], i: number) => ({
  data: pts(flat),
  order: -i,
  clip: 0,
  showLine: true,
  borderColor: "#000",
  borderWidth: 4,
  pointRadius: 0,
});

const V = 0.1; // 1e-11 to 1e-10, and 1e-5 to 1e-4
const blueCoreA = [...pts(varCluster1, V), ...pts(varCluster2, V), ...pts(varCluster3, V), ...pts(varCluster4, V), ...pts(varCluster5, V), ...pts(varCluster0, V)];
const blueFarA = [...pts(varCluster0Far), ...pts(varCluster0High)];
const blueCoreB = [...pts(minCluster1Band, V), ...pts(minCluster1Sparse, V), ...pts(minCluster2Body, V), ...pts(minCluster2Sparse, V), ...pts(minCluster3, V), ...pts(minCluster4, V), ...pts(minCluster5Body, V), ...pts(minCluster5Sparse, V)];
const blueFarB = [...pts(minCluster0Far), ...pts(minCluster1Far)];

const frame = {
  id: "frame",
  beforeDraw(chart: any) {
    const s = chart.scales.y;
    if (!chart.$shifted) {
      s.getLabelItems().forEach((it: any) => { it.options.translation[1] += 2; });
      chart.$shifted = true;
    }
  },
  afterDatasetsDraw(chart: any) {
    const { ctx, chartArea: a } = chart;
    ctx.save();
    ctx.strokeStyle = "#000";
    ctx.lineWidth = 2;
    ctx.strokeRect(a.left, a.top, a.right - a.left, a.bottom - a.top);
    ctx.restore();
  },
};

type Panel = {
  key: string; letter: string; lx: number; lb: number;
  L: number; R: number; T: number; B: number; ylabelX: number;
  xTitle: string; yTitle: string; xMin: number; xMax: number; yMin: number; yMax: number;
  xTicks: number[]; yTicks: number[]; yDec: number; xOff: string; yOff: string;
  datasets: any[];
};

const panels: Panel[] = [
  {
    key: "a", letter: "(a)", lx: 10, lb: 56, L: 115, R: 615, T: 71, B: 485, ylabelX: 71,
    xTitle: "Variance 3-4Hz", yTitle: "Variance Other Band",
    xMin: 0, xMax: 4, yMin: 0, yMax: 8, xTicks: xTicksVar, yTicks: yTicksVar, yDec: 0,
    xOff: "1e−10", yOff: "1e−12",
    datasets: [
      set(bandColors[0], blueCoreA, 0, 3.5, 0.85),
      set(bandColors[0], blueFarA, 1),
      set(bandColors[1], pts(var1415Far), 2),
      set(bandColors[1], pts(var1415Core), 3, 4, 0.85),
      set(bandColors[2], pts(var2425), 4, 3.5, 0.7),
    ],
  },
  {
    key: "b", letter: "(b)", lx: 625, lb: 46, L: 728, R: 1228, T: 71, B: 485, ylabelX: 653,
    xTitle: "Min 3-4Hz", yTitle: "Min Other Band",
    xMin: -2.589, xMax: 0, yMin: -3.728, yMax: 0, xTicks: xTicksMin, yTicks: yTicksMin, yDec: 1,
    xOff: "1e−4", yOff: "1e−5",
    datasets: [
      set(bandColors[0], blueCoreB, 0, 3.5, 0.9),
      set(bandColors[0], blueFarB, 1),
      set(bandColors[1], pts(min1415), 2),
      set(bandColors[1], pts(min1415SpineSparse), 3),
      set(bandColors[1], pts(min1415Spine), 4, 4, 0.85),
      set(bandColors[2], pts(min2425), 5),
      set(bandColors[2], pts(min2425Corner), 6, 5, 0.95),
    ],
  },
  {
    key: "c", letter: "(c)", lx: 19, lb: 549, L: 115, R: 615, T: 577, B: 992, ylabelX: 55,
    xTitle: "Variance 3-4Hz", yTitle: "Variance 9-10Hz",
    xMin: 0, xMax: 4.166, yMin: 0, yMax: .937, xTicks: xTicksVar, yTicks: yTicksVarC, yDec: 1,
    xOff: "1e−10", yOff: "1e−11",
    datasets: [
      set(clusterColors[2], pts(varCluster2, V, V), 0, 3.5, 0.8),
      set(clusterColors[3], pts(varCluster3, V, V), 1),
      set(clusterColors[1], pts(varCluster1, V, V), 2),
      set(clusterColors[5], pts(varCluster5, V, V), 3, 3.5, 0.9),
      set(clusterColors[4], pts(varCluster4, V, V), 4),
      set(clusterColors[0], [...pts(varCluster0, V, V), ...pts(varCluster0Far, 1, V), ...pts(varCluster0High, 1, V)], 5),
      box(zoomBoxC, 6),
    ],
  },
  {
    key: "d", letter: "(d)", lx: 632, lb: 555, L: 728, R: 1228, T: 577, B: 992, ylabelX: 653,
    xTitle: "Min 3-4Hz", yTitle: "Min 9-10Hz",
    xMin: -2.589, xMax: 0, yMin: -3.725, yMax: 0, xTicks: xTicksMin, yTicks: yTicksMin, yDec: 1,
    xOff: "1e−4", yOff: "1e−5",
    datasets: [
      set(clusterColors[2], [...pts(minCluster2Body, V), ...pts(minCluster2Sparse, V)], 0, 3.5, 0.85),
      set(clusterColors[3], pts(minCluster3, V), 1, 3, 0.7),
      set(clusterColors[1], pts(minCluster1Band, V), 2, 4, 0.9),
      set(clusterColors[5], [...pts(minCluster5Body, V), ...pts(minCluster5Sparse, V), ...pts(minCluster5Far)], 3, 3, 0.8),
      set(clusterColors[4], [...pts(minCluster4, V), ...pts(minCluster4Sparse, V), ...pts(minCluster4Far)], 4),
      set(clusterColors[1], [...pts(minCluster1Sparse, V), ...pts(minCluster1Far)], 5),
      set(clusterColors[0], pts(minCluster0Far), 6),
      box(zoomBoxD, 7),
    ],
  },
  {
    key: "e", letter: "(e)", lx: 17, lb: 1055, L: 115, R: 615, T: 1083, B: 1498, ylabelX: 71,
    xTitle: "Variance 3-4Hz", yTitle: "Variance 9-10Hz",
    xMin: 0, xMax: 3, yMin: 0, yMax: 8, xTicks: xTicksVarFine, yTicks: yTicksVar, yDec: 0,
    xOff: "1e−11", yOff: "1e−12",
    datasets: [
      set(clusterColors[2], pts(varCluster2), 0, 3, 0.6),
      set(clusterColors[3], pts(varCluster3), 1, 3, 0.7),
      set(clusterColors[1], pts(varCluster1), 2, 3, 0.6),
      set(clusterColors[5], pts(varCluster5), 3, 3.5, 0.75),
      set(clusterColors[4], pts(varCluster4), 4, 3, 0.8),
      set(clusterColors[0], pts(varCluster0), 5),
    ],
  },
  {
    key: "f", letter: "(f)", lx: 631, lb: 1062, L: 728, R: 1228, T: 1083, B: 1498, ylabelX: 653,
    xTitle: "Min 3-4Hz", yTitle: "Min 9-10Hz",
    xMin: -3, xMax: 0, yMin: -1.5, yMax: 0, xTicks: xTicksMinFine, yTicks: yTicksMinFine, yDec: 1,
    xOff: "1e−5", yOff: "1e−5",
    datasets: [
      set(clusterColors[2], pts(minCluster2Sparse), 0),
      set(clusterColors[2], pts(minCluster2Body), 1, 5, 0.9),
      set(clusterColors[3], pts(minCluster3), 2, 3.5, 0.65),
      set(clusterColors[1], pts(minCluster1Band), 3, 6, 0.95),
      set(clusterColors[5], pts(minCluster5Sparse), 4),
      set(clusterColors[5], pts(minCluster5Body), 5, 6, 0.92),
      set(clusterColors[4], pts(minCluster4), 6, 4.5, 0.75),
      set(clusterColors[4], pts(minCluster4Sparse), 7),
      set(clusterColors[1], pts(minCluster1Sparse), 8),
      set(clusterColors[0], pts(minCluster0), 9),
    ],
  },
];

const TICK = 16.5;
const TITLE = 17.2;
const XBOX = 59;
const fmt = (v: number, d: number) => v.toFixed(d).replace("-", "−");

function PanelChart({ p }: { p: Panel }) {
  const ref = useRef<HTMLCanvasElement>(null);
  const left = p.ylabelX - 10;
  const top = p.T - 14;
  const width = p.R + 25 - left;
  const height = p.B + XBOX - top;
  useEffect(() => {
    const tickFont = { family: FONT, size: TICK };
    const titleFont = { family: FONT, size: TITLE };
    const grid = { drawOnChartArea: false, drawTicks: true, tickLength: 6, color: "#000", lineWidth: 1.5 };
    const chart = new Chart(ref.current!, {
      type: "scatter",
      data: { datasets: p.datasets },
      plugins: [frame],
      options: {
        responsive: false,
        animation: false,
        layout: { padding: { top: 14, right: 25, left: 0, bottom: 0 } },
        plugins: { legend: { display: false }, tooltip: { enabled: false } },
        scales: {
          x: {
            type: "linear", min: p.xMin, max: p.xMax, bounds: "data", grid, border: { display: false },
            title: { display: true, text: p.xTitle, font: titleFont, color: "#000", padding: 0 },
            ticks: { autoSkip: false, maxRotation: 0, minRotation: 0, padding: 7, font: tickFont, color: "#000", callback: (v: any) => fmt(Number(v), 1) },
            afterBuildTicks: (s: any) => { s.ticks = p.xTicks.map((value) => ({ value })); },
            afterFit: (s: any) => { s.height = XBOX; },
          },
          y: {
            type: "linear", min: p.yMin, max: p.yMax, bounds: "data", grid, border: { display: false },
            title: { display: true, text: p.yTitle, font: titleFont, color: "#000", padding: 0 },
            ticks: { autoSkip: false, maxRotation: 0, minRotation: 0, padding: 4, font: tickFont, color: "#000", callback: (v: any) => fmt(Number(v), p.yDec) },
            afterBuildTicks: (s: any) => { s.ticks = p.yTicks.map((value) => ({ value })); },
            afterFit: (s: any) => { s.width = p.L - left; },
          },
        },
      } as any,
    });
    return () => chart.destroy();
  }, [p]);
  const note = (text: string, style: React.CSSProperties) => (
    <div style={{ position: "absolute", fontFamily: FONT, fontSize: TICK, lineHeight: "20px", color: "#000", whiteSpace: "nowrap", ...style }}>{text}</div>
  );
  return (
    <>
      <canvas ref={ref} width={width} height={height} style={{ position: "absolute", left, top, width, height }} />
      {note(p.yOff, { left: p.L, top: p.T - 22 })}
      {note(p.xOff, { right: 1252 - p.R, top: p.B + 37 })}
      <div style={{ position: "absolute", left: p.lx, top: p.lb - 50, fontFamily: FONT, fontWeight: "bold", fontSize: 52, lineHeight: "62px", color: "#000", whiteSpace: "nowrap" }}>{p.letter}</div>
    </>
  );
}

function Legend({ names, colors, left, top, width, height, firstY, stepY, markerR, alpha, size }: any) {
  return (
    <div style={{ position: "absolute", left, top, width, height, boxSizing: "border-box", background: "rgba(255,255,255,0.8)", border: "1.5px solid #ccc", borderRadius: 4 }}>
      {names.map((n: string, i: number) => (
        <React.Fragment key={n}>
          <span style={{ position: "absolute", left: 29 - markerR, top: firstY + i * stepY - markerR, width: 2 * markerR, height: 2 * markerR, borderRadius: "50%", background: `rgba(${colors[i]},${alpha})` }} />
          <span style={{ position: "absolute", left: 66, top: firstY + i * stepY - 14, fontFamily: FONT, fontSize: size, lineHeight: "28px", color: "#000", whiteSpace: "nowrap" }}>{n}</span>
        </React.Fragment>
      ))}
    </div>
  );
}

export default function App() {
  return (
    <div style={{ position: "absolute", left: 0, top: 0, width: 1252, height: 1555, background: "#fff", overflow: "hidden" }}>
      <div style={{ position: "absolute", left: 80, right: 0, top: 33, height: 1, background: "#eee" }} />
      {panels.map((p) => <PanelChart key={p.key} p={p} />)}
      <Legend names={bandNames} colors={bandColors} left={426} top={82} width={179} height={100} firstY={18} stepY={31} markerR={6.5} alpha={0.6} size={21.4} />
      <Legend names={clusterNames} colors={clusterColors} left={433} top={787} width={172} height={194} firstY={17} stepY={31.4} markerR={8} alpha={0.8} size={21} />
    </div>
  );
}
